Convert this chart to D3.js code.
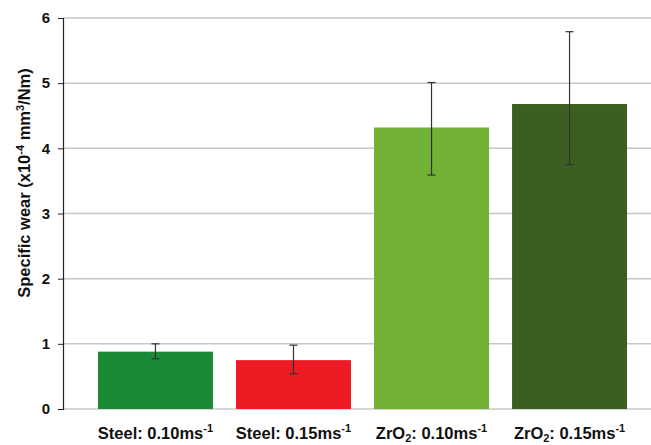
<!DOCTYPE html>
<html>
<head>
<meta charset="utf-8">
<script src="https://cdn.jsdelivr.net/npm/d3@7"></script>
<style>
  body { margin: 0; background: #fff; }
  svg { display: block; font-family: "Liberation Sans", Arial, sans-serif; }
</style>
</head>
<body>
<script>
// data
var categories = ["Steel: 0.10", "Steel: 0.15", "ZrO2: 0.10", "ZrO2: 0.15"];
var values = [0.88, 0.75, 4.32, 4.68];
var errHigh = [0.12, 0.23, 0.69, 1.11];
var errLow = [0.11, 0.21, 0.73, 0.93];
var colors = ["#1a8a36", "#ed1c24", "#71b236", "#3c5e21"];
var yTicks = [0, 1, 2, 3, 4, 5, 6];

var width = 651, height = 445;
var svg = d3.select("body").append("svg")
    .attr("width", width)
    .attr("height", height);

var x = d3.scaleBand()
  .domain(categories)
  .range([86.5, 638.5])
  .paddingInner(0.167)
  .paddingOuter(0.083);

var y = d3.scaleLinear()
  .domain([0, 6])
  .range([409, 18]);

// gridlines
svg.append("g")
  .selectAll("line")
  .data(yTicks)
  .enter()
  .append("line")
    .attr("x1", 63)
    .attr("x2", width)
    .attr("y1", function(d) { return y(d); })
    .attr("y2", function(d) { return y(d); })
    .attr("stroke", "#c8c8c8")
    .attr("stroke-width", 1.5);

// y axis
var yAxis = svg.append("g")
  .attr("transform", "translate(63,0)")
  .call(d3.axisLeft(y).tickValues(yTicks).tickSize(5).tickPadding(8).tickFormat(d3.format("d")));
yAxis.select(".domain").attr("stroke", "#222").attr("stroke-width", 1.2);
yAxis.selectAll(".tick line").attr("stroke", "#222");
yAxis.selectAll("text")
  .style("font-size", "15px")
  .style("font-weight", "bold")
  .attr("fill", "#111");

// bars
svg.append("g")
  .selectAll("rect")
  .data(categories)
  .enter()
  .append("rect")
    .attr("x", function(d) { return x(d); })
    .attr("width", x.bandwidth())
    .attr("y", function(d, i) { return y(values[i]); })
    .attr("height", function(d, i) { return y(0) - y(values[i]); })
    .attr("fill", function(d, i) { return colors[i]; });

// error bars
var eb = svg.append("g")
  .selectAll("g")
  .data(categories)
  .enter()
  .append("g")
    .attr("stroke", "#333")
    .attr("stroke-width", 1.2);
eb.append("line")
  .attr("x1", function(d) { return x(d) + x.bandwidth() / 2; })
  .attr("x2", function(d) { return x(d) + x.bandwidth() / 2; })
  .attr("y1", function(d, i) { return y(values[i] + errHigh[i]); })
  .attr("y2", function(d, i) { return y(values[i] - errLow[i]); });
eb.append("line")
  .attr("x1", function(d) { return x(d) + x.bandwidth() / 2 - 4; })
  .attr("x2", function(d) { return x(d) + x.bandwidth() / 2 + 4; })
  .attr("y1", function(d, i) { return y(values[i] + errHigh[i]); })
  .attr("y2", function(d, i) { return y(values[i] + errHigh[i]); });
eb.append("line")
  .attr("x1", function(d) { return x(d) + x.bandwidth() / 2 - 4; })
  .attr("x2", function(d) { return x(d) + x.bandwidth() / 2 + 4; })
  .attr("y1", function(d, i) { return y(values[i] - errLow[i]); })
  .attr("y2", function(d, i) { return y(values[i] - errLow[i]); });

// x labels
var xl = svg.append("g")
  .selectAll("text")
  .data(categories)
  .enter()
  .append("text")
    .attr("x", function(d) { return x(d) + x.bandwidth() / 2; })
    .attr("y", 439)
    .attr("text-anchor", "middle")
    .style("font-size", "16.5px")
    .style("font-weight", "bold")
    .attr("fill", "#111");
xl.each(function(d) {
  var t = d3.select(this);
  var parts = d.split(": ");
  if (parts[0] == "ZrO2") {
    t.append("tspan").text("ZrO");
    t.append("tspan").attr("dy", 2.5).style("font-size", "11px").text("2");
    t.append("tspan").attr("dy", -2.5).text(": " + parts[1] + "ms");
  } else {
    t.append("tspan").text(d + "ms");
  }
  t.append("tspan").attr("dy", -7).style("font-size", "11px").text("-1");
});

// y axis title
var yt = svg.append("text")
  .attr("transform", "translate(30,183) rotate(-90)")
  .attr("text-anchor", "middle")
  .style("font-size", "16.5px")
  .style("font-weight", "bold")
  .attr("fill", "#111");
yt.append("tspan").text("Specific wear (x10");
yt.append("tspan").attr("dy", -6).style("font-size", "11px").text("-4");
yt.append("tspan").attr("dy", 6).text(" mm");
yt.append("tspan").attr("dy", -6).style("font-size", "11px").text("3");
yt.append("tspan").attr("dy", 6).text("/Nm)");
</script>
</body>
</html>
